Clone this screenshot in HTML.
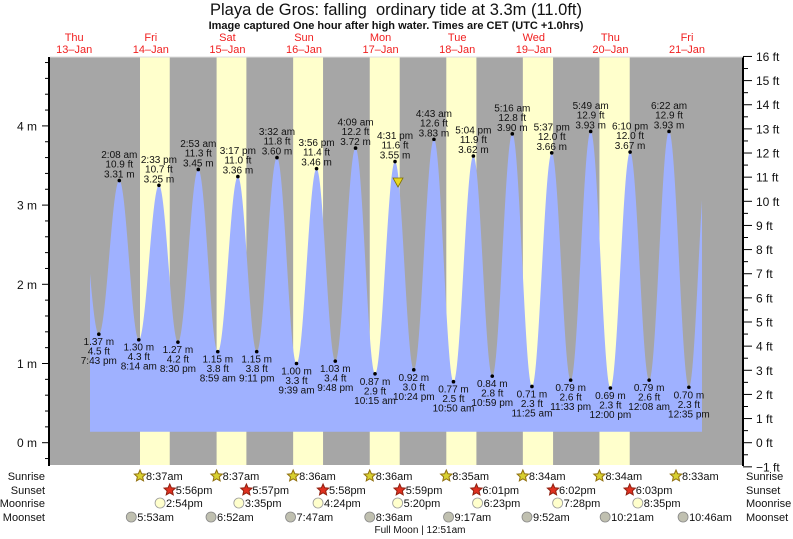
<!DOCTYPE html>
<html><head><meta charset="utf-8"><style>
html,body{margin:0;padding:0;background:#fff;width:793px;height:539px;overflow:hidden}
svg{display:block;font-family:"Liberation Sans",sans-serif}
</style></head><body>
<svg id="s" width="793" height="539" xmlns="http://www.w3.org/2000/svg"></svg>
<script>
var S=document.getElementById('s'),NS='http://www.w3.org/2000/svg';
function el(t,a,txt){var e=document.createElementNS(NS,t);for(var k in a)e.setAttribute(k,a[k]);if(txt!==undefined)e.textContent=txt;S.appendChild(e);return e;}
var X0=35.9,PH=3.1917;
function X(d,h,m){return X0+(d*24+h+m/60)*PH;}
function Y(hm){return 442.7-79.2*hm;}
el('rect',{x:50,y:57,width:693,height:408,fill:'#a6a6a6'});
var sr=[[8,37],[8,37],[8,36],[8,36],[8,35],[8,34],[8,34],[8,33]];
var ss=[[17,56],[17,57],[17,58],[17,59],[18,1],[18,2],[18,3]];
for(var i=0;i<7;i++){var a=X(i+1,sr[i][0],sr[i][1]),b=X(i+1,ss[i][0],ss[i][1]);el('rect',{x:a,y:57,width:b-a,height:408,fill:'#ffffcc'});}
var ex=[[0,13,20,3.3],[0,19,43,1.37],[1,2,8,3.31],[1,8,14,1.30],[1,14,33,3.25],[1,20,30,1.27],[2,2,53,3.45],[2,8,59,1.15],[2,15,17,3.36],[2,21,11,1.15],[3,3,32,3.60],[3,9,39,1.00],[3,15,56,3.46],[3,21,48,1.03],[4,4,9,3.72],[4,10,15,0.87],[4,16,31,3.55],[4,22,24,0.92],[5,4,43,3.83],[5,10,50,0.77],[5,17,4,3.62],[5,22,59,0.84],[6,5,16,3.90],[6,11,25,0.71],[6,17,37,3.66],[6,23,33,0.79],[7,5,49,3.93],[7,12,0,0.69],[7,18,10,3.67],[8,0,8,0.79],[8,6,22,3.93],[8,12,35,0.70],[8,18,30,3.7]];
var pts=ex.map(function(e){return [X(e[0],e[1],e[2]),e[3]];});
var d='M90,431.7';
for(var x=90;x<=702;x+=0.5){for(var j=0;j<pts.length-1;j++){if(x>=pts[j][0]&&x<=pts[j+1][0])break;}
var p=pts[j],q=pts[j+1],t=(x-p[0])/(q[0]-p[0]);var h=p[1]+(q[1]-p[1])*(1-Math.cos(Math.PI*t))/2;d+=' L'+x+','+Y(h).toFixed(2);}
d+=' L702,431.7 Z';
el('path',{d:d,fill:'#9fb1ff'});
var tl=['','7:43 pm','2:08 am','8:14 am','2:33 pm','8:30 pm','2:53 am','8:59 am','3:17 pm','9:11 pm','3:32 am','9:39 am','3:56 pm','9:48 pm','4:09 am','10:15 am','4:31 pm','10:24 pm','4:43 am','10:50 am','5:04 pm','10:59 pm','5:16 am','11:25 am','5:37 pm','11:33 pm','5:49 am','12:00 pm','6:10 pm','12:08 am','6:22 am','12:35 pm'];
for(var k=1;k<=31;k++){var px=pts[k][0],hm=pts[k][1],py=Y(hm),ft=(hm*3.2808).toFixed(1)+' ft',mm=hm.toFixed(2)+' m';
el('circle',{cx:px,cy:py,r:1.8,fill:'#000'});
var st={'font-size':'10','text-anchor':'middle',fill:'#111'};
function T(y,s){var o={};for(var z in st)o[z]=st[z];o.x=px;o.y=y;el('text',o,s);}
if(hm>2){T(py-3,mm);T(py-13,ft);T(py-22.5,tl[k]);}else{T(py+11,mm);T(py+20.5,ft);T(py+30,tl[k]);}}
el('path',{d:'M393,178 L403,178 L398,187 Z',fill:'#e8d820',stroke:'#807000','stroke-width':'0.8'});
el('line',{x1:49,y1:57,x2:49,y2:466,stroke:'#000','stroke-width':2});
el('line',{x1:743,y1:57,x2:743,y2:466,stroke:'#000','stroke-width':2});
el('line',{x1:50,y1:57,x2:743,y2:57,stroke:'#ddd','stroke-width':1});
for(var v=-0.2;v<=5.1;v+=0.2){var y=Y(v);if(y<57||y>466)continue;var maj=Math.abs(v-Math.round(v))<0.01;
el('line',{x1:maj?42:45,y1:y,x2:49,y2:y,stroke:'#000','stroke-width':1});
if(maj)el('text',{x:37,y:y+4.5,'font-size':'12','text-anchor':'end',fill:'#111'},Math.round(v)+' m');}
for(var f=-1;f<=16;f+=0.5){var y=442.7-24.14*f;var maj=f%1===0;
el('line',{x1:743,y1:y,x2:maj?752:748,y2:y,stroke:'#000','stroke-width':1});
if(maj)el('text',{x:756,y:y+4.5,'font-size':'12',fill:'#111'},(f<0?'\u2212':'')+Math.abs(f)+' ft');}
el('text',{x:396,y:15,'font-size':'16.5','text-anchor':'middle',fill:'#111'},'Playa de Gros: falling\u00a0 ordinary tide at 3.3m (11.0ft)');
el('text',{x:396,y:29,'font-size':'11','font-weight':'bold','text-anchor':'middle',fill:'#111'},'Image captured One hour after high water. Times are CET (UTC +1.0hrs)');
var dn=['Thu','Fri','Sat','Sun','Mon','Tue','Wed','Thu','Fri'];
for(var i=0;i<9;i++){var cx=X(i,12,0);el('text',{x:cx,y:41,'font-size':'11','text-anchor':'middle',fill:'#f02020'},dn[i]);el('text',{x:cx,y:53,'font-size':'11','text-anchor':'middle',fill:'#f02020'},(13+i)+'\u2013Jan');}
var rows=[['Sunrise',476],['Sunset',490],['Moonrise',503],['Moonset',517]];
rows.forEach(function(r){el('text',{x:45,y:r[1]+4,'font-size':'11','text-anchor':'end',fill:'#111'},r[0]);el('text',{x:746,y:r[1]+4,'font-size':'11',fill:'#111'},r[0]);});
function star(cx,cy,fill,stroke){var p='';for(var i=0;i<10;i++){var r=i%2?2.8:6,a=-Math.PI/2+i*Math.PI/5;p+=(i?'L':'M')+(cx+r*Math.cos(a)).toFixed(2)+','+(cy+r*Math.sin(a)).toFixed(2);}el('path',{d:p+'Z',fill:fill,stroke:stroke,'stroke-width':1});}
function fmt(h,m){var ap=h>=12?'pm':'am',hh=h%12;if(hh==0)hh=12;return hh+':'+(m<10?'0':'')+m+ap;}
for(var i=0;i<8;i++){var x=X(i+1,sr[i][0],sr[i][1]);star(x,476,'#d8d030','#907010');el('text',{x:x+6,y:480,'font-size':'11',fill:'#111'},fmt(sr[i][0],sr[i][1]));}
for(var i=0;i<7;i++){var x=X(i+1,ss[i][0],ss[i][1]);star(x,490,'#e03020','#902010');el('text',{x:x+6,y:494,'font-size':'11',fill:'#111'},fmt(ss[i][0],ss[i][1]));}
var mr=[[14,54],[15,35],[16,24],[17,20],[18,23],[19,28],[20,35]];
for(var i=0;i<7;i++){var x=X(i+1,mr[i][0],mr[i][1]);el('circle',{cx:x,cy:503,r:5,fill:'#ffffcc',stroke:'#999','stroke-width':0.8});el('text',{x:x+6,y:507,'font-size':'11',fill:'#111'},fmt(mr[i][0],mr[i][1]));}
var ms=[[5,53],[6,52],[7,47],[8,36],[9,17],[9,52],[10,21],[10,46]];
for(var i=0;i<8;i++){var x=X(i+1,ms[i][0],ms[i][1]);el('circle',{cx:x,cy:517,r:5,fill:'#c0c0b0',stroke:'#888','stroke-width':0.8});el('text',{x:x+6,y:521,'font-size':'11',fill:'#111'},fmt(ms[i][0],ms[i][1]));}
el('text',{x:420,y:533,'font-size':'10','text-anchor':'middle',fill:'#111'},'Full Moon | 12:51am');
</script>
</body></html>
